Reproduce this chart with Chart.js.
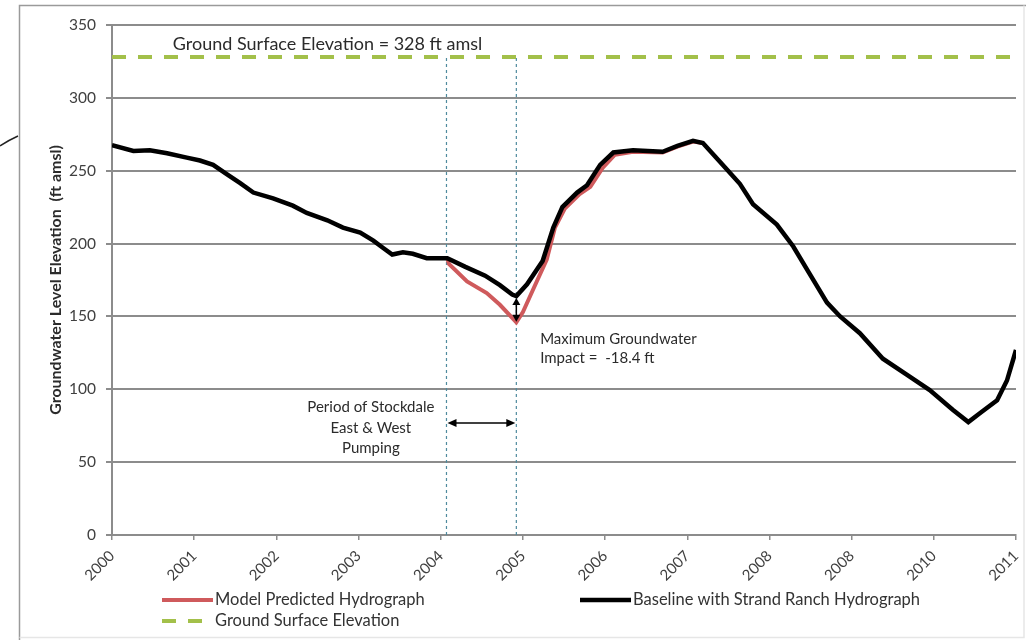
<!DOCTYPE html>
<html>
<head>
<meta charset="utf-8">
<script src="https://cdn.jsdelivr.net/npm/chart.js@4/dist/chart.umd.min.js"></script>
<style>
  html, body { margin: 0; padding: 0; background: #ffffff; }
  #wrap { width: 1026px; height: 641px; position: relative; }
</style>
</head>
<body>
<div id="wrap"><canvas id="c" width="1026" height="641"></canvas></div>
<script>
// ---- data ----
const xTickLabels = ['2000','2001','2002','2003','2004','2005','2006','2007','2008','2008','2010','2011'];
const yTicks = [0, 50, 100, 150, 200, 250, 300, 350];

const baselineYears = [2000.00,2000.26,2000.46,2000.67,2000.91,2001.07,2001.23,2001.40,2001.56,2001.72,2001.96,2002.20,2002.37,2002.62,2002.81,2003.02,2003.18,2003.30,2003.41,2003.54,2003.66,2003.83,2004.08,2004.30,2004.54,2004.72,2004.87,2004.92,2005.05,2005.24,2005.37,2005.48,2005.66,2005.78,2005.94,2006.10,2006.34,2006.70,2006.88,2007.07,2007.19,2007.40,2007.64,2007.80,2008.09,2008.29,2008.46,2008.70,2008.86,2009.10,2009.38,2009.67,2009.95,2010.23,2010.42,2010.56,2010.77,2010.89,2011.00];
const baselineValues = [267.5,263.5,264,262,259,257,254,247.5,241.5,235,231,226,221,216,211,207.5,202,197,192.5,194,193,190,190,184,178,171.5,165,164,172,188,211,225,235,240,254,262.5,264,263,267,270.5,269,256,241,227,213,198,182,159.5,150,138.5,121,110,99.5,86,77.5,83.5,92.5,106,127];

const modelYears = [2004.08,2004.10,2004.32,2004.56,2004.72,2004.87,2004.92,2005.00,2005.12,2005.29,2005.39,2005.51,2005.69,2005.82,2005.97,2006.12,2006.34,2006.70,2006.88,2007.07,2007.19];
const modelValues = [190,186,174,166,158,149,146,153,168,189,211,224,234,239,252,261,263,262.5,266.5,270,269];

const groundYears = [2000, 2011];
const groundValues = [328, 328];

const pumpingPeriod = [2004.07, 2004.92];   // start, end of Stockdale East & West pumping
const maxImpact = [164, 145.6];              // baseline low, model low

const seriesLabels = ['Model Predicted Hydrograph', 'Baseline with Strand Ranch Hydrograph', 'Ground Surface Elevation'];

// ---- helpers ----
const pts = (xs, ys) => xs.map((x, i) => ({x: x, y: ys[i]}));
const FONT = 'Lato, "Liberation Sans", sans-serif';
const GRID = '#8c8c8c';
const RED = '#cf5a5c';
const BLACK = '#000000';
const GREEN = '#a3c04a';
const BLUE = '#4f8a9e';

function arrowHead(ctx, x, y, dx, dy, len, wid) {
  const nx = -dy, ny = dx;
  ctx.beginPath();
  ctx.moveTo(x, y);
  ctx.lineTo(x - dx * len + nx * wid, y - dy * len + ny * wid);
  ctx.lineTo(x - dx * len - nx * wid, y - dy * len - ny * wid);
  ctx.closePath();
  ctx.fill();
}

const decor = {
  id: 'decor',
  beforeDraw(chart) {
    const ctx = chart.ctx;
    ctx.save();
    // outer frame
    ctx.strokeStyle = '#9a9a9a';
    ctx.lineWidth = 1.5;
    ctx.beginPath();
    ctx.moveTo(19.5, 640); ctx.lineTo(19.5, 5.5); ctx.lineTo(1026, 5.5);
    ctx.stroke();
    ctx.strokeStyle = '#e6e6e6';
    ctx.beginPath();
    ctx.moveTo(19.5, 637.5); ctx.lineTo(1024, 637.5); ctx.lineTo(1024, 5.5);
    ctx.stroke();
    // stray stroke at left margin of the scanned page
    ctx.strokeStyle = '#222';
    ctx.lineWidth = 1.5;
    ctx.beginPath();
    ctx.moveTo(0, 146); ctx.quadraticCurveTo(9, 140, 18, 136);
    ctx.stroke();
    ctx.restore();
  },
  afterDatasetsDraw(chart) {
    const ctx = chart.ctx;
    const xs = chart.scales.x, ys = chart.scales.y;
    const X = v => xs.getPixelForValue(v), Y = v => ys.getPixelForValue(v);
    ctx.save();
    ctx.fillStyle = '#2b2b2b';
    ctx.textBaseline = 'middle';

    // ground surface label
    ctx.font = '18px ' + FONT;
    ctx.textAlign = 'left';
    ctx.fillText('Ground Surface Elevation = 328 ft amsl', X(2000.74), Y(337));

    // max impact label
    ctx.font = '15px ' + FONT;
    ctx.fillText('Maximum Groundwater', X(2005.21), Y(134.5));
    ctx.fillText('Impact =  -18.4 ft', X(2005.21), Y(121.5));

    // pumping period label
    ctx.textAlign = 'center';
    ctx.font = '15px ' + FONT;
    ctx.fillText('Period of Stockdale', X(2003.15), Y(87.8));
    ctx.fillText('East & West', X(2003.15), Y(73.4));
    ctx.fillText('Pumping', X(2003.15), Y(59.7));

    // horizontal double arrow
    ctx.strokeStyle = '#000';
    ctx.fillStyle = '#000';
    ctx.lineWidth = 1.5;
    const ay = Y(76.9), ax1 = X(pumpingPeriod[0]) + 1, ax2 = X(pumpingPeriod[1]) - 1;
    ctx.beginPath(); ctx.moveTo(ax1 + 6, ay); ctx.lineTo(ax2 - 6, ay); ctx.stroke();
    arrowHead(ctx, ax1, ay, -1, 0, 9, 4);
    arrowHead(ctx, ax2, ay, 1, 0, 9, 4);

    // vertical double arrow (max impact)
    const vx = X(pumpingPeriod[1]), vy1 = Y(maxImpact[0]) + 2, vy2 = Y(maxImpact[1]) - 1;
    ctx.beginPath(); ctx.moveTo(vx, vy1 + 5); ctx.lineTo(vx, vy2 - 5); ctx.stroke();
    arrowHead(ctx, vx, vy1, 0, -1, 7, 4);
    arrowHead(ctx, vx, vy2, 0, 1, 7, 4);

    // legend
    ctx.textAlign = 'left';
    ctx.font = '16.5px ' + FONT;
    ctx.fillStyle = '#333';
    const lg = [
      {x: 162, y: 600, color: RED, dash: [], w: 4, text: seriesLabels[0]},
      {x: 580, y: 600, color: BLACK, dash: [], w: 4.5, text: seriesLabels[1]},
      {x: 162, y: 621, color: GREEN, dash: [14, 12], w: 4, text: seriesLabels[2]}
    ];
    lg.forEach(it => {
      ctx.save();
      ctx.strokeStyle = it.color;
      ctx.lineWidth = it.w;
      ctx.setLineDash(it.dash);
      ctx.beginPath(); ctx.moveTo(it.x, it.y); ctx.lineTo(it.x + 51, it.y); ctx.stroke();
      ctx.restore();
      ctx.fillText(it.text, it.x + 53, it.y);
    });
    ctx.restore();
  }
};

new Chart(document.getElementById('c'), {
  type: 'line',
  data: {
    datasets: [
      {label: seriesLabels[1], data: pts(baselineYears, baselineValues), borderColor: BLACK, borderWidth: 4.5, pointRadius: 0, tension: 0, order: 0},
      {label: seriesLabels[0], data: pts(modelYears, modelValues), borderColor: RED, borderWidth: 4, pointRadius: 0, tension: 0, order: 1},
      {label: seriesLabels[2], data: pts(groundYears, groundValues), borderColor: GREEN, borderWidth: 4, borderDash: [14, 12], pointRadius: 0, order: 2},
      {label: 'start', data: pts([pumpingPeriod[0], pumpingPeriod[0]], [0, groundValues[0]]), borderColor: BLUE, borderWidth: 1.2, borderDash: [3, 3], pointRadius: 0, order: 3},
      {label: 'end', data: pts([pumpingPeriod[1], pumpingPeriod[1]], [0, groundValues[0]]), borderColor: BLUE, borderWidth: 1.2, borderDash: [3, 3], pointRadius: 0, order: 3}
    ]
  },
  options: {
    responsive: false,
    animation: false,
    events: [],
    layout: {padding: {left: 0, right: 10, top: 25, bottom: 0}},
    plugins: {legend: {display: false}, tooltip: {enabled: false}, title: {display: false}},
    scales: {
      x: {
        type: 'linear', min: 2000, max: 2011,
        afterFit: s => { s.height = 106; s.paddingLeft = 0; s.paddingRight = 0; },
        afterBuildTicks: s => { s.ticks = xTickLabels.map((_, i) => ({value: 2000 + i})); },
        ticks: {
          autoSkip: false, maxRotation: 45, minRotation: 45,
          callback: (v, i) => xTickLabels[i],
          font: {family: FONT, size: 15}, color: '#404040', padding: 7
        },
        grid: {drawOnChartArea: false, drawTicks: true, tickLength: 5, color: GRID, lineWidth: 1.5},
        border: {display: true, color: GRID, width: 2}
      },
      y: {
        min: 0, max: 350,
        afterFit: s => { s.width = 112; s.paddingTop = 0; s.paddingBottom = 0; },
        afterBuildTicks: s => { s.ticks = yTicks.map(v => ({value: v})); },
        ticks: {font: {family: FONT, size: 15.5}, color: '#404040', padding: 10},
        grid: {color: GRID, lineWidth: 2, tickLength: 6},
        border: {display: true, color: GRID, width: 2},
        title: {display: true, text: 'Groundwater Level Elevation  (ft amsl)', font: {family: FONT, size: 16, weight: 'bold'}, color: '#2b2b2b', padding: {top: 46, bottom: 0}}
      }
    }
  },
  plugins: [decor]
});
</script>
</body>
</html>
